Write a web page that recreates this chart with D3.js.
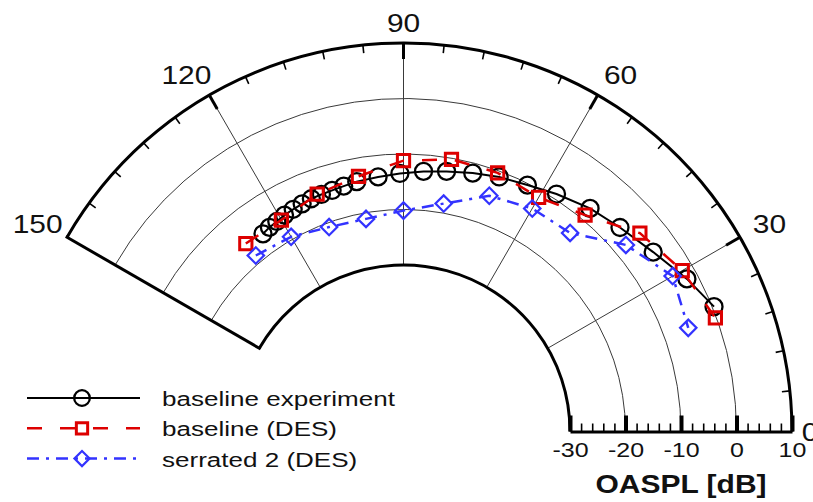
<!DOCTYPE html>
<html>
<head>
<meta charset="utf-8">
<script src="https://cdn.jsdelivr.net/npm/d3@7"></script>
<style>
  html, body { margin: 0; padding: 0; background: #fff; }
  svg { display: block; font-family: "Liberation Sans", Arial, Helvetica, sans-serif; }
</style>
</head>
<body>
<svg id="chart" width="813" height="502"></svg>
<script>
// Far-field directivity: polar angle [deg] and OASPL [dB]
const expAngle = [125.4, 123.3, 121.1, 118.8, 116.4, 114.0, 111.6, 109.1, 106.5, 103.7,
                  100.6, 95.7, 90.8, 85.6, 80.6, 75.0, 69.4, 63.3, 57.2, 50.1, 43.3, 35.7, 28.3, 21.9];
const expOaspl = [-16.3, -16.0, -15.8, -15.5, -15.3, -15.1, -14.9, -14.8, -14.7, -14.5,
                  -14.2, -13.9, -13.5, -13.0, -12.5, -11.8, -11.0, -10.3, -9.1, -7.6, -6.4, -4.6, -2.0, 0.3];

const desAngle     = [130, 120, 110, 100, 90, 80, 70, 60, 50, 40, 30, 20];
const baselineDes  = [-15.8, -16.0, -14.5, -13.3, -11.2, -10.2, -10.4, -11.3, -9.1, -4.4, -2.0, -0.2];
const serrated2Des = [-18.6, -19.5, -20.8, -21.1, -20.2, -18.3, -14.8, -13.6, -13.3, -7.7, -4.0, -5.4];

const seriesNames = ["baseline experiment", "baseline (DES)", "serrated 2 (DES)"];

const angleTicks  = [0, 30, 60, 90, 120, 150];
const oasplTicks  = [-30, -20, -10, 0, 10];
const gridLevels  = [-20, -10, 0];
const axisTitle   = "OASPL [dB]";

// ---- geometry ----
const cx = 403.5, cy = 431.5;
const rMin = -30, rMax = 10, angMax = 150;
const r = d3.scaleLinear().domain([-60, rMax]).range([0, 388.5]);
// d3 radial angle: clockwise from 12 o'clock; polar angle counter-clockwise from +x
const ang = d3.scaleLinear().domain([0, 90]).range([Math.PI / 2, 0]);
const rad = d => d * Math.PI / 180;
const pt = (a, v) => [cx + r(v) * Math.cos(rad(a)), cy - r(v) * Math.sin(rad(a))];

const svg = d3.select("#chart");
const g = svg.append("g").attr("transform", `translate(${cx},${cy})`);

const arcPath = (radius, a0, a1) => {
  const p = d3.path();
  p.arc(0, 0, radius, -rad(a0), -rad(a1), true);
  return p.toString();
};

// ---- grid ----
const grid = g.append("g").attr("fill", "none").attr("stroke", "#3a3a3a").attr("stroke-width", 1);
grid.selectAll("path.ring").data(gridLevels).join("path")
  .attr("class", "ring")
  .attr("d", v => arcPath(r(v), 0, angMax));
grid.selectAll("line.spoke").data(angleTicks.filter(a => a > 0 && a < angMax)).join("line")
  .attr("class", "spoke")
  .attr("x1", a => r(rMin) * Math.cos(rad(a))).attr("y1", a => -r(rMin) * Math.sin(rad(a)))
  .attr("x2", a => r(rMax) * Math.cos(rad(a))).attr("y2", a => -r(rMax) * Math.sin(rad(a)));

// ---- frame ----
const frame = g.append("g").attr("fill", "none").attr("stroke", "#000").attr("stroke-width", 3);
frame.append("path").attr("d", arcPath(r(rMax), 0, angMax));
frame.append("path").attr("d", arcPath(r(rMin), 0, angMax));
frame.append("line")
  .attr("x1", r(rMin) * Math.cos(rad(angMax))).attr("y1", -r(rMin) * Math.sin(rad(angMax)))
  .attr("x2", r(rMax) * Math.cos(rad(angMax))).attr("y2", -r(rMax) * Math.sin(rad(angMax)))
  .attr("stroke-linecap", "square");

// angular ticks on the outer arc (minor every 6 deg, major every 30 deg)
const angMinor = d3.range(6, angMax, 6).filter(a => a % 30 !== 0);
const angMajor = angleTicks.filter(a => a > 0 && a < angMax);
const tickSeg = (sel, len, w) => sel
  .attr("x1", a => r(rMax) * Math.cos(rad(a))).attr("y1", a => -r(rMax) * Math.sin(rad(a)))
  .attr("x2", a => (r(rMax) - len) * Math.cos(rad(a))).attr("y2", a => -(r(rMax) - len) * Math.sin(rad(a)))
  .attr("stroke", "#000").attr("stroke-width", w);
tickSeg(g.append("g").selectAll("line").data(angMinor).join("line"), 8, 1.6);
tickSeg(g.append("g").selectAll("line").data(angMajor).join("line"), 16, 3);

// angle labels
const angLabelFont = 26, angStretch = 1.15;
g.append("g").selectAll("text").data(angleTicks).join("text")
  .attr("transform", a => {
    const gx = 18 + 32 * Math.abs(Math.sin(rad(a)));
    const gy = 20 + 8 * Math.abs(Math.cos(rad(a)));
    const x = (r(rMax) + gx) * Math.cos(rad(a));
    const y = -(r(rMax) + gy) * Math.sin(rad(a));
    return `translate(${x},${y}) scale(${angStretch},1)`;
  })
  .attr("text-anchor", "middle").attr("dy", "0.36em")
  .attr("font-size", angLabelFont).attr("fill", "#111")
  .text(d => d);

// ---- radial (OASPL) axis along 0 deg ----
const xr = d3.scaleLinear().domain([rMin, rMax]).range([r(rMin), r(rMax)]);
const axisG = g.append("g");
axisG.call(d3.axisBottom(xr).tickValues(d3.range(rMin, rMax + 0.1, 2)).tickFormat("")
  .tickSizeInner(-8).tickSizeOuter(0));
axisG.selectAll(".tick line").attr("stroke", "#000").attr("stroke-width", 1.6);
axisG.select(".domain").attr("stroke", "#000").attr("stroke-width", 3);

const majorG = g.append("g");
majorG.call(d3.axisBottom(xr).tickValues(oasplTicks).tickFormat(d => String(d))
  .tickSizeInner(-16).tickSizeOuter(0).tickPadding(11));
majorG.select(".domain").remove();
majorG.selectAll(".tick line").attr("stroke", "#000").attr("stroke-width", 4);
majorG.selectAll(".tick text")
  .attr("font-size", 20).attr("font-family", null).attr("fill", "#111")
  .attr("transform", "scale(1.25,1)");

svg.append("text")
  .attr("transform", `translate(${cx + (r(rMin) + r(rMax)) / 2},493) scale(1.2,1)`)
  .attr("text-anchor", "middle").attr("font-size", 25).attr("font-weight", "bold").attr("fill", "#111")
  .text(axisTitle);

// ---- series ----
const series = [
  { name: seriesNames[0], angles: expAngle, values: expOaspl, color: "#000", width: 2, mw: 2.3, dash: null,
    symbol: d3.symbolCircle, size: 227, rot: 0 },
  { name: seriesNames[1], angles: desAngle, values: baselineDes, color: "#dd0000", width: 2.5, mw: 3, dash: "15,18",
    symbol: d3.symbolSquare, size: 150, rot: 0 },
  { name: seriesNames[2], angles: desAngle, values: serrated2Des, color: "#3333ff", width: 2.5, mw: 2.2, dash: "12,7,3,7",
    symbol: d3.symbolSquare, size: 135, rot: 45 }
];

const radialLine = d3.lineRadial()
  .angle(d => ang(d[0]))
  .radius(d => r(d[1]));

series.forEach(s => {
  const pts = s.angles.map((a, i) => [a, s.values[i]]);
  const sg = g.append("g");
  sg.append("path").datum(pts)
    .attr("d", radialLine)
    .attr("fill", "none").attr("stroke", s.color).attr("stroke-width", s.width)
    .attr("stroke-dasharray", s.dash);
  sg.selectAll("path.mk").data(pts).join("path")
    .attr("class", "mk")
    .attr("d", d3.symbol(s.symbol, s.size))
    .attr("transform", d => {
      const p = pt(d[0], d[1]);
      return `translate(${p[0] - cx},${p[1] - cy}) rotate(${s.rot})`;
    })
    .attr("fill", "none").attr("stroke", s.color).attr("stroke-width", s.mw);
});

// ---- legend ----
const legend = svg.append("g").attr("transform", "translate(27,398)");
const leg = legend.selectAll("g").data(series).join("g")
  .attr("transform", (d, i) => `translate(0,${i * 30.3})`);
leg.append("line").attr("x1", 0).attr("x2", 113).attr("y1", 0).attr("y2", 0)
  .attr("stroke", d => d.color).attr("stroke-width", d => d.width)
  .attr("stroke-dasharray", d => d.dash);
leg.append("path")
  .attr("d", d => d3.symbol(d.symbol, d.size * 0.85)())
  .attr("transform", d => `translate(55,0) rotate(${d.rot})`)
  .attr("fill", "none").attr("stroke", d => d.color).attr("stroke-width", d => d.mw);
leg.append("text")
  .attr("transform", "translate(135,8) scale(1.24,1)")
  .attr("font-size", 21).attr("fill", "#111")
  .text(d => d.name);
</script>
</body>
</html>
